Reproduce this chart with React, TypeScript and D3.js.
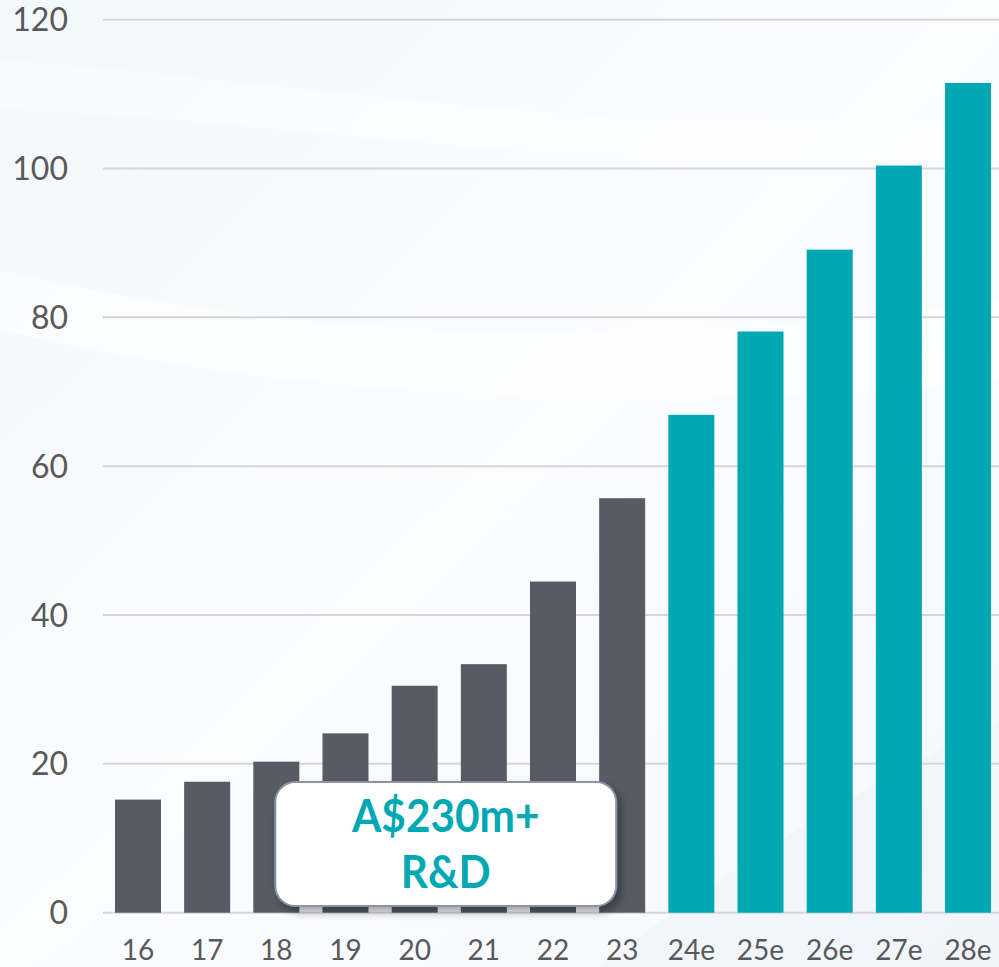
import React from 'react';
import * as d3 from 'd3';

const categories = ['16', '17', '18', '19', '20', '21', '22', '23', '24e', '25e', '26e', '27e', '28e'];
const values = [15.2, 17.6, 20.3, 24.1, 30.5, 33.4, 44.5, 55.7, 66.9, 78.1, 89.1, 100.4, 111.5];
const isEstimate = [false, false, false, false, false, false, false, false, true, true, true, true, true];
const yTicks = [0, 20, 40, 60, 80, 100, 120];
const calloutLines = ['A$230m+', 'R&D'];

const W = 999;
const H = 967;

export default function App() {
  const x = d3.scaleBand<string>()
    .domain(categories)
    .range([103.4, 1002.6])
    .paddingInner(0.335)
    .paddingOuter(0.1675);

  const y = d3.scaleLinear().domain([0, 120]).range([912.7, 19.7]);

  const font = 'Lato, "Open Sans", sans-serif';

  // callout sits over bars 18..23
  const boxX = x('18')! + 22;
  const boxR = x('23')! + x.bandwidth() - 29;
  const boxCx = (boxX + boxR) / 2;

  return (
    <svg width={W} height={H} style={{ position: 'absolute', left: 0, top: 0 }}>
      <defs>
        <linearGradient id="bg" x1="0" y1="0" x2="1" y2="1">
          <stop offset="0" stopColor="#f3f8fb" />
          <stop offset="0.5" stopColor="#fbfcfe" />
          <stop offset="1" stopColor="#f5f8fc" />
        </linearGradient>
        <filter id="shadow" x="-10%" y="-10%" width="125%" height="135%">
          <feDropShadow dx="4" dy="5" stdDeviation="4" floodColor="#000" floodOpacity="0.35" />
        </filter>
      </defs>
      <rect width={W} height={H} fill="url(#bg)" />
      {/* soft swooshes in background */}
      <path d="M0,270 C250,330 600,360 999,300 L999,380 C600,420 250,390 0,330 Z" fill="#ffffff" opacity={0.45} />
      <path d="M0,60 C300,80 600,140 999,120 L999,160 C600,180 300,120 0,110 Z" fill="#ffffff" opacity={0.35} />
      <path d="M600,967 C750,850 880,780 999,720 L999,967 Z" fill="#eef4fa" opacity={0.6} />

      {yTicks.map(t => (
        <g key={t}>
          <line x1={103} x2={999} y1={y(t)} y2={y(t)} stroke="#d6d6d6" strokeWidth={2} />
          <text x={68} y={y(t)} dy="0.36em" textAnchor="end" fontFamily={font} fontSize={32} fill="#595959">{t}</text>
        </g>
      ))}

      {categories.map((c, i) => (
        <rect
          key={c}
          x={x(c)}
          y={y(values[i])}
          width={x.bandwidth()}
          height={y(0) - y(values[i])}
          fill={isEstimate[i] ? '#00a8b4' : '#575b64'}
        />
      ))}

      {categories.map(c => (
        <text key={c} x={x(c)! + x.bandwidth() / 2} y={960} textAnchor="middle" fontFamily={font} fontSize={28} fill="#595959">{c}</text>
      ))}

      <rect x={boxX} y={782} width={boxR - boxX} height={124} rx={20} ry={20} fill="#ffffff" stroke="#8994a6" strokeWidth={2} filter="url(#shadow)" />
      {calloutLines.map((l, i) => (
        <text
          key={l}
          transform={`translate(${boxCx},${832 + i * 56}) scale(0.92,1)`}
          textAnchor="middle"
          fontFamily={font}
          fontWeight={700}
          fontSize={46}
          fill="#00a8b4"
        >{l}</text>
      ))}
    </svg>
  );
}
